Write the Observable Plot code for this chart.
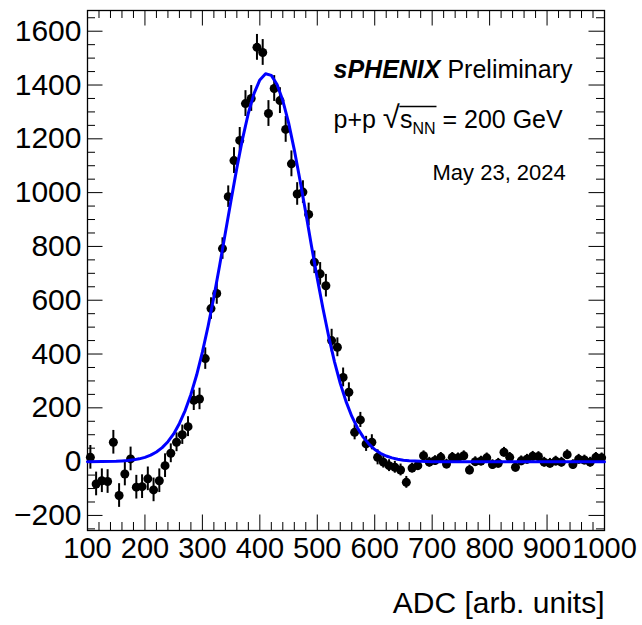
<!DOCTYPE html>
<html>
<head>
<meta charset="utf-8">
<script src="https://cdn.jsdelivr.net/npm/d3@7"></script>
<script src="https://cdn.jsdelivr.net/npm/@observablehq/plot@0.6"></script>
<style>
  body { margin: 0; background: #fff; }
  #chart svg { font-family: "Liberation Sans", Arial, Helvetica, sans-serif; }
</style>
</head>
<body>
<div id="chart"></div>
<script>
// ---- data ----
const binCenters = [105,115,125,135,145,155,165,175,185,195,205,215,225,235,245,255,265,275,285,295,
  305,315,325,335,345,355,365,375,385,395,405,415,425,435,445,455,465,475,485,495,
  505,515,525,535,545,555,565,575,585,595,605,615,625,635,645,655,665,675,685,695,
  705,715,725,735,745,755,765,775,785,795,805,815,825,835,845,855,865,875,885,895,
  905,915,925,935,945,955,965,975,985,995];
const counts = [16,-83,-71,-74,72,-126,-46,10,-95,-93,-64,-105,-71,-15,31,72,100,130,228,233,
  383,569,625,792,985,1119,1194,1331,1350,1540,1521,1294,1387,1342,1235,1107,995,1002,919,741,
  698,654,450,425,313,258,109,155,66,72,16,-2,-15,-21,-31,-77,-24,-15,22,-2,
  4,16,-9,16,14,22,-31,0,2,14,-11,-6,35,16,-21,3,9,20,19,-2,
  -6,2,-2,26,-11,9,6,-2,16,14];
const errors = [44,44,44,44,44,44,44,44,44,44,44,44,44,44,35,35,36,37,38,40,
  40,40,40,40,40,48,48,48,48,48,48,48,48,48,48,48,42,42,42,42,
  42,42,42,35,35,35,28,28,28,28,28,22,22,22,22,22,18,18,18,18,
  18,18,18,18,18,18,18,18,18,18,18,18,18,18,18,18,18,18,18,18,
  18,18,18,18,18,18,18,18,18,18];

// fitted curve
const fitX = [100,150,160,170,180,190,200,210,220,230,240,250,260,270,280,290,300,310,320,330,
  340,350,360,370,380,390,400,410,420,430,440,450,460,470,480,490,500,510,520,530,
  540,550,560,570,580,590,600,610,620,630,640,650,660,680,700,800,900,1000];
const fitY = [0,1,2.5,4,6.6,10.4,16,24,36,52,74,103,142,190,250,322,407,504,612,729,
  851,973,1092,1201,1295,1369,1419,1442,1436,1402,1342,1260,1159,1045,925,801,681,568,464,371,
  291,224,169,125,91,65,45,31,21,14,9,5.5,3.4,1,0,0,0,0];

// axes
const xTicks = [100,200,300,400,500,600,700,800,900,1000];
const yTicks = [-200,0,200,400,600,800,1000,1200,1400,1600];
const xDomain = [100, 1000];
const yDomain = [-256, 1677];

// annotations
const label1 = "sPHENIX Preliminary";
const label2 = "p+p √sNN = 200 GeV";
const label3 = "May 23, 2024";
const xTitle = "ADC [arb. units]";

// ---- layout ----
const W = 642, H = 625, mL = 87, mR = 38, mT = 10, mB = 95;
const pw = W - mL - mR, ph = H - mT - mB;
const TL = 15.5, TLm = 8;
const xMinor = d3.range(100, 1001, 20).filter(v => !xTicks.includes(v));
const yMinor = d3.range(-250, 1677, 50).filter(v => !yTicks.includes(v));

const pts = binCenters.map((x, i) => ({x, y: counts[i], e: errors[i]}));
const fit = fitX.map((x, i) => ({x, y: fitY[i]}));
const fmt = d3.format("d");

const chart = Plot.plot({
  width: W, height: H,
  marginLeft: mL, marginRight: mR, marginTop: mT, marginBottom: mB,
  style: {fontFamily: "'Liberation Sans', Arial, Helvetica, sans-serif", fontSize: "29px", background: "#fff", color: "#000", overflow: "visible"},
  x: {domain: xDomain},
  y: {domain: yDomain},
  marks: [
    // ticks (inward, on all four sides)
    Plot.tickX(xTicks, {x: d => d, insetTop: ph - TL, stroke: "#000"}),
    Plot.tickX(xTicks, {x: d => d, insetBottom: ph - TL, stroke: "#000"}),
    Plot.tickX(xMinor, {x: d => d, insetTop: ph - TLm, stroke: "#000"}),
    Plot.tickX(xMinor, {x: d => d, insetBottom: ph - TLm, stroke: "#000"}),
    Plot.tickY(yTicks, {y: d => d, insetRight: pw - TL, stroke: "#000"}),
    Plot.tickY(yTicks, {y: d => d, insetLeft: pw - TL, stroke: "#000"}),
    Plot.tickY(yMinor, {y: d => d, insetRight: pw - TLm, stroke: "#000"}),
    Plot.tickY(yMinor, {y: d => d, insetLeft: pw - TLm, stroke: "#000"}),
    Plot.frame({stroke: "#000", strokeWidth: 1.3}),
    Plot.axisX(xTicks, {tickSize: 0, tickPadding: 7, label: null, fontSize: 29, tickFormat: fmt}),
    Plot.axisY(yTicks, {tickSize: 0, tickPadding: 6, label: null, fontSize: 30, tickFormat: fmt}),
    // data
    Plot.ruleX(pts, {x: "x", y1: d => d.y - d.e, y2: d => d.y + d.e, stroke: "#000", strokeWidth: 2}),
    Plot.dot(pts, {x: "x", y: "y", r: 4.5, fill: "#000", stroke: "none"}),
    Plot.line(fit, {x: "x", y: "y", stroke: "#0000ff", strokeWidth: 3}),
    // annotations
    Plot.text([label1], {text: d => d, frameAnchor: "top-left", dx: 246, dy: 59, textAnchor: "start", lineAnchor: "middle", fontSize: 25}),
    Plot.text([label2], {text: d => d, frameAnchor: "top-left", dx: 246, dy: 109, textAnchor: "start", lineAnchor: "middle", fontSize: 25}),
    Plot.text([label3], {text: d => d, frameAnchor: "top-left", dx: 345, dy: 162, textAnchor: "start", lineAnchor: "middle", fontSize: 22}),
    Plot.text([xTitle], {text: d => d, frameAnchor: "bottom-right", dx: 0, dy: 73, textAnchor: "end", lineAnchor: "middle", fontSize: 30})
  ]
});

document.getElementById("chart").appendChild(chart);

// rich text formatting for the annotations
const svg = d3.select(chart.tagName.toLowerCase() === "svg" ? chart : chart.querySelector("svg"));
svg.selectAll("text").each(function() {
  const t = d3.select(this);
  const s = this.textContent;
  if (s === label1) {
    t.text(null);
    t.append("tspan").attr("font-weight", "bold").attr("font-style", "italic").text("sPHENIX");
    t.append("tspan").text(" Preliminary");
  } else if (s === label2) {
    t.text(null);
    t.append("tspan").text("p+p ");
    t.append("tspan").attr("font-size", 31).attr("font-weight", 300).text("√");
    t.append("tspan").text("s");
    t.append("tspan").attr("font-size", 16).attr("dy", 6).text("NN");
    t.append("tspan").attr("dy", -6).text(" = 200 GeV");
    // radical bar over s_NN, derived from the rendered glyph positions
    const node = this;
    const x0 = node.getEndPositionOfChar(4).x - 0.5;
    const x1 = node.getEndPositionOfChar(7).x + 1;
    const base = node.getStartPositionOfChar(5).y;
    const yb = base - 21;
    const line = d3.select(node.parentNode).append("line")
      .attr("x1", x0).attr("x2", x1).attr("y1", yb).attr("y2", yb)
      .attr("stroke", "#000").attr("stroke-width", 1.3);
    const tr = node.getAttribute("transform");
    if (tr) line.attr("transform", tr);
  }
});
</script>
</body>
</html>
